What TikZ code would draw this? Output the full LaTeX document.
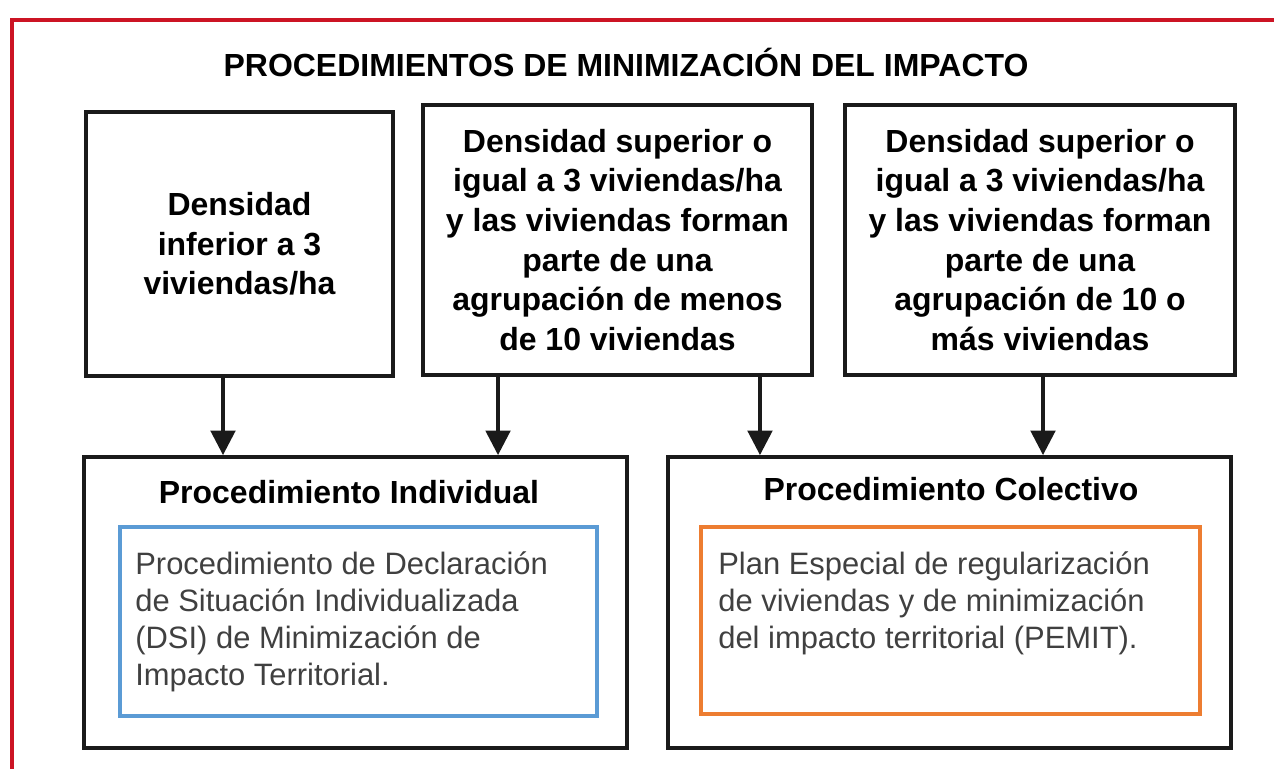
\documentclass[tikz,border=0pt]{standalone}
\usepackage{fontspec}
\setmainfont{Liberation Sans}
\usepackage{tikz}
\usetikzlibrary{arrows.meta}
\usepackage{xcolor}
\definecolor{Carmine}{HTML}{CC1424}
\definecolor{Danube}{HTML}{5B9BD5}
\definecolor{Crusta}{HTML}{ED7D31}
\definecolor{Tundora}{HTML}{404040}
\definecolor{Mine}{HTML}{1A1A1A}
\newcommand{\negrita}{\bfseries\fontsize{18.2}{22.6}\selectfont}
\newcommand{\normalt}{\fontsize{17.6}{21.2}\selectfont}

\begin{document}
\begin{tikzpicture}[x=0.02cm,y=-0.02cm,
  caja/.style={draw=Mine,line width=2.2pt,align=center,font=\negrita},
  marco/.style={line width=2pt},
  texto/.style={anchor=north west,inner sep=0pt,align=left,text=Tundora,font=\normalt},
  flecha/.style={draw=Mine,line width=2pt,-{Triangle[length=14pt,width=14pt]}}]
     \clip (0,0) rectangle (1274,768);
     \draw[draw=Carmine,line width=2.2pt] (12,20) rectangle (1300,800);

     \node[font=\negrita] (titulo) at (626,62) {PROCEDIMIENTOS DE MINIMIZACIÓN DEL IMPACTO};

     \node[caja,minimum width=6.14cm,minimum height=5.28cm] (dens1) at (239.5,244) {Densidad\\inferior a 3\\viviendas/ha};
     \node[caja,minimum width=7.78cm,minimum height=5.4cm] (dens2) at (617.5,240) {Densidad superior o\\igual a 3 viviendas/ha\\y las viviendas forman\\parte de una\\agrupación de menos\\de 10 viviendas};
     \node[caja,minimum width=7.8cm,minimum height=5.4cm] (dens3) at (1040,240) {Densidad superior o\\igual a 3 viviendas/ha\\y las viviendas forman\\parte de una\\agrupación de 10 o\\más viviendas};

     \node[caja,minimum width=10.86cm,minimum height=5.82cm] (indiv) at (355.5,602.5) {};
     \node[caja,minimum width=11.26cm,minimum height=5.82cm] (colec) at (949.5,602.5) {};
     \node[font=\negrita] (tindiv) at (349,492) {Procedimiento Individual};
     \node[font=\negrita] (tcolec) at (951,489) {Procedimiento Colectivo};

     \node[marco,draw=Danube,minimum width=9.54cm,minimum height=3.78cm] (dsi) at (358.5,621.5) {};
     \node[marco,draw=Crusta,minimum width=9.98cm,minimum height=3.74cm] (pemit) at (950.5,620.5) {};
     \node[texto] (tdsi) at (135,551) {Procedimiento de Declaración\\de Situación Individualizada\\(DSI) de Minimización de\\Impacto Territorial.};
     \node[texto] (tpemit) at (718,551) {Plan Especial de regularización\\de viviendas y de minimización\\del impacto territorial (PEMIT).};

     \draw[flecha] ([xshift=-0.33cm]dens1.south) -- ([xshift=-0.33cm]dens1.south |- indiv.north);
     \draw[flecha] ([xshift=-2.39cm]dens2.south) -- ([xshift=-2.39cm]dens2.south |- indiv.north);
     \draw[flecha] ([xshift=2.85cm]dens2.south) -- ([xshift=2.85cm]dens2.south |- colec.north);
     \draw[flecha] ([xshift=0.06cm]dens3.south) -- ([xshift=0.06cm]dens3.south |- colec.north);
    \end{tikzpicture}
\end{document}
